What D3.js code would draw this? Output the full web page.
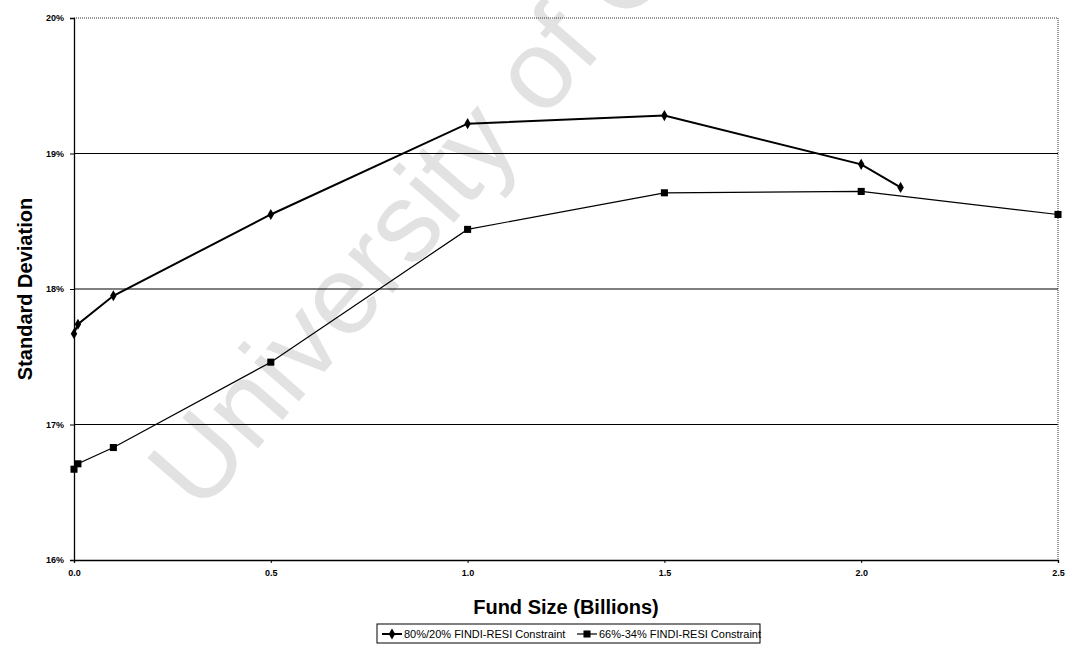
<!DOCTYPE html>
<html>
<head>
<meta charset="utf-8">
<script src="https://cdn.jsdelivr.net/npm/d3@7"></script>
<style>
  body { margin: 0; background: #fff; }
  svg { font-family: Arial, "Liberation Sans", sans-serif; }
</style>
</head>
<body>
<div id="chart"></div>
<script>
// fund size in billions
var fundSizes80 = [0, 0.01, 0.1, 0.5, 1.0, 1.5, 2.0, 2.1]
var stdDev80 = [17.67, 17.74, 17.95, 18.55, 19.22, 19.28, 18.92, 18.75]
var fundSizes66 = [0, 0.01, 0.1, 0.5, 1.0, 1.5, 2.0, 2.5]
var stdDev66 = [16.67, 16.71, 16.83, 17.46, 18.44, 18.71, 18.72, 18.55]
var xTicks = [0, 0.5, 1.0, 1.5, 2.0, 2.5]
var yTicks = [16, 17, 18, 19, 20]
var seriesNames = ["80%/20% FINDI-RESI Constraint", "66%-34% FINDI-RESI Constraint"]

var width = 1067, height = 658
var margin = { top: 18, right: 9, bottom: 98, left: 74 }

var svg = d3.select("#chart").append("svg")
  .attr("width", width)
  .attr("height", height)

// watermark (cut off by the top edge, as in the original scan)
svg.append("text")
  .attr("transform", "translate(200,515) rotate(-49)")
  .attr("font-size", 112)
  .attr("fill", "#e2e2e2")
  .text("University of Cape Town")

var x = d3.scaleLinear().domain([0, 2.5]).range([margin.left, width - margin.right])
var y = d3.scaleLinear().domain([16, 20]).range([height - margin.bottom, margin.top])

// gridlines
svg.selectAll(".grid").data([17, 18, 19]).enter().append("line")
  .attr("x1", x(0)).attr("x2", x(2.5))
  .attr("y1", function(d) { return y(d) }).attr("y2", function(d) { return y(d) })
  .attr("stroke", "#000").attr("stroke-width", 1.2)

// dotted top & right border
svg.append("path")
  .attr("d", "M" + x(0) + "," + y(20) + "H" + x(2.5) + "V" + y(16))
  .attr("fill", "none").attr("stroke", "#333").attr("stroke-width", 1)
  .attr("stroke-dasharray", "1,1")

// axes
var yAxis = d3.axisLeft(y).tickValues(yTicks).tickSize(4).tickFormat(function(d) { return d + "%" })
var yg = svg.append("g").attr("transform", "translate(" + x(0) + ",0)").call(yAxis)
var xAxis = d3.axisBottom(x).tickValues(xTicks).tickSize(3).tickFormat(d3.format(".1f"))
var xg = svg.append("g").attr("transform", "translate(0," + y(16) + ")").call(xAxis)
;[yg, xg].forEach(function(g) {
  g.select(".domain").attr("stroke", "#000").attr("stroke-width", 1.3)
  g.selectAll(".tick line").attr("stroke", "#000")
  g.selectAll("text").attr("font-size", 9).attr("font-weight", "bold").attr("fill", "#000")
    .attr("font-family", "Arial, sans-serif")
})
yg.selectAll("text").attr("dx", -3)
xg.selectAll("text").attr("dy", 10)

// lines
var line = d3.line()
  .x(function(d) { return x(d[0]) })
  .y(function(d) { return y(d[1]) })

var data80 = d3.zip(fundSizes80, stdDev80)
var data66 = d3.zip(fundSizes66, stdDev66)

svg.append("path").datum(data66).attr("d", line)
  .attr("fill", "none").attr("stroke", "#000").attr("stroke-width", 1.2)
svg.append("path").datum(data80).attr("d", line)
  .attr("fill", "none").attr("stroke", "#000").attr("stroke-width", 2)

var diamond = d3.symbol().type(d3.symbolDiamond).size(36)
var square = d3.symbol().type(d3.symbolSquare).size(50)

svg.selectAll(".d80").data(data80).enter().append("path")
  .attr("d", diamond)
  .attr("transform", function(d) { return "translate(" + x(d[0]) + "," + y(d[1]) + ")" })
  .attr("fill", "#000")
svg.selectAll(".d66").data(data66).enter().append("path")
  .attr("d", square)
  .attr("transform", function(d) { return "translate(" + x(d[0]) + "," + y(d[1]) + ")" })
  .attr("fill", "#000")

// axis titles
svg.append("text")
  .attr("x", (x(0) + x(2.5)) / 2).attr("y", 614)
  .attr("text-anchor", "middle")
  .attr("font-size", 20).attr("font-weight", "bold")
  .text("Fund Size (Billions)")
svg.append("text")
  .attr("transform", "translate(32," + ((y(16) + y(20)) / 2) + ") rotate(-90)")
  .attr("text-anchor", "middle")
  .attr("font-size", 20).attr("font-weight", "bold")
  .text("Standard Deviation")

// legend
var lg = svg.append("g").attr("transform", "translate(377,624)")
lg.append("rect").attr("width", 383).attr("height", 19)
  .attr("fill", "#fff").attr("stroke", "#000").attr("stroke-width", 1)
var items = lg.selectAll(".item").data(seriesNames).enter().append("g")
  .attr("transform", function(d, i) { return "translate(" + (5 + i * 195) + ",10)" })
items.append("line").attr("x1", 0).attr("x2", 20).attr("stroke", "#000")
  .attr("stroke-width", function(d, i) { return i === 0 ? 2 : 1.2 })
items.append("path")
  .attr("d", function(d, i) { return i === 0 ? diamond() : square() })
  .attr("transform", "translate(10,0)")
  .attr("fill", "#000")
items.append("text").attr("x", 22).attr("y", 4)
  .attr("font-size", 11)
  .text(function(d) { return d })
</script>
</body>
</html>
